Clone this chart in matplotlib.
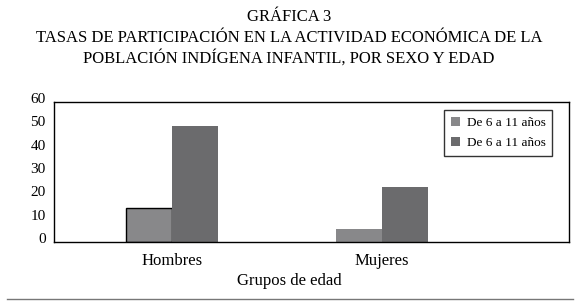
import matplotlib
matplotlib.use("Agg")
import matplotlib.pyplot as plt
import matplotlib.transforms as mtransforms
from matplotlib.lines import Line2D
from matplotlib.patches import Patch
import numpy as np

plt.rcParams['font.family'] = ['Liberation Serif', 'DejaVu Serif']

# datos
grupos = ['Hombres', 'Mujeres']
serie1 = [14.5, 5.5]
serie2 = [49.5, 23.5]
etiquetas = ['De 6 a 11 años', 'De 6 a 11 años']
titulo = ['GRÁFICA 3',
          'TASAS DE PARTICIPACIÓN EN LA ACTIVIDAD ECONÓMICA DE LA',
          'POBLACIÓN INDÍGENA INFANTIL, POR SEXO Y EDAD']
colores = ['#88888a', '#6b6b6d']

W, H = 578, 305
fig = plt.figure(figsize=(W / 100, H / 100), dpi=100)

# titulo
for txt, base in zip(titulo, [21, 42, 63]):
    fig.text(0.5, 1 - base / H, txt, ha='center', va='baseline', fontsize=12)

ax = fig.add_axes([54 / W, (H - 242) / H, 515 / W, 140 / H])
x = np.arange(len(grupos))
ancho = 0.22
b1 = ax.bar(x - ancho / 2, serie1, ancho, color=colores[0])
b2 = ax.bar(x + ancho / 2, serie2, ancho, color=colores[1])
b1[0].set_edgecolor('black')
b1[0].set_linewidth(1)

ax.set_xlim(-0.562, 1.89)
ax.set_ylim(0, 60)
ax.set_yticks(range(0, 61, 10))
ax.set_xticks(x)
ax.set_xticklabels(grupos, fontsize=12)
ax.tick_params(axis='both', length=0)
ax.tick_params(axis='y', labelsize=11, pad=6)
ax.tick_params(axis='x', pad=8)
off = mtransforms.ScaledTranslation(0, 4 / 100, fig.dpi_scale_trans)
for lab in ax.get_yticklabels():
    lab.set_transform(lab.get_transform() + off)
for s in ax.spines.values():
    s.set_linewidth(1)
    s.set_color('black')

fig.text(0.5, 1 - 285 / H, 'Grupos de edad', ha='center', va='baseline', fontsize=12)

handles = [Patch(facecolor=c, edgecolor='none') for c in colores]
leg = ax.legend(handles, etiquetas, loc='upper right',
                bbox_to_anchor=(552 / W, 1 - 110 / H),
                bbox_transform=fig.transFigure, fontsize=9.5, frameon=True,
                fancybox=False, edgecolor='black', handlelength=0.7,
                handleheight=0.7, handletextpad=0.5, borderpad=0.5,
                labelspacing=0.6, borderaxespad=0)
leg.get_frame().set_linewidth(1)

# linea gris inferior
fig.add_artist(Line2D([7 / W, 573 / W], [1 - 299 / H, 1 - 299 / H],
                      transform=fig.transFigure, color='#777777', lw=1))

fig.savefig('out.png', dpi=100)
